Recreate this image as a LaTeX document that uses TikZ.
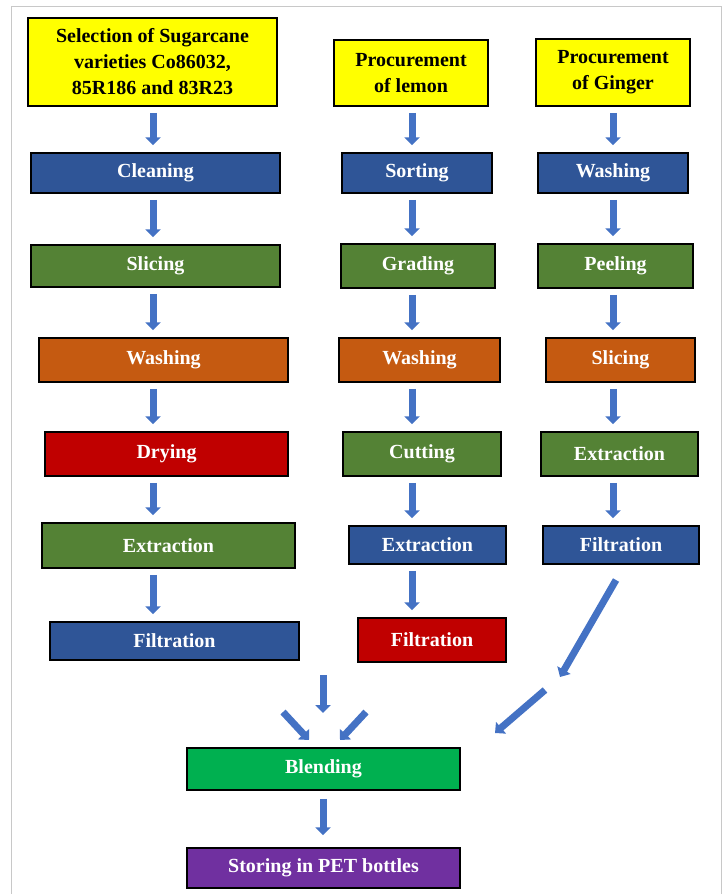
\documentclass[tikz,border=0pt]{standalone}
\usepackage{fontspec}
\setmainfont{Liberation Serif}
\usetikzlibrary{arrows.meta,calc}
\definecolor{cyel}{HTML}{FFFF00}
\definecolor{cblue}{HTML}{2F5597}
\definecolor{cgreen}{HTML}{548235}
\definecolor{corange}{HTML}{C55A11}
\definecolor{cred}{HTML}{C00000}
\definecolor{cbright}{HTML}{00B050}
\definecolor{cpurple}{HTML}{7030A0}
\definecolor{carrow}{HTML}{4472C4}
\definecolor{cframe}{HTML}{C8C8C8}
\tikzset{
  box/.style={draw=black, line width=1.5pt, inner sep=0pt, text=white,
    font=\fontsize{20}{26}\selectfont\bfseries, align=center},
  ybox/.style={box, fill=cyel, text=black},
  flowarrow/.style={draw=carrow, line width=7pt, -{Triangle[width=15pt,length=8pt]}},
}
\newcommand{\vflow}[3]{\draw[flowarrow] ($(#1.south -| #3)+(0,6)$) -- ($(#2.north -| #3)+(0,-7)$);}
\begin{document}
\begin{tikzpicture}[x=1pt,y=-1pt]
\useasboundingbox (0,0) rectangle (728,894);
\begin{scope}
\clip (0,0) rectangle (728,894);
\draw[cframe, line width=1.5pt] (11.5,900) -- (11.5,6.5) -- (721.5,6.5) -- (721.5,900);
\end{scope}
% column x positions for arrows
\coordinate (ax1) at (153,0);
\coordinate (ax2) at (412,0);
\coordinate (ax3) at (613,0);
\coordinate (ax4) at (323,0);
% column 1
\node[ybox, minimum width=249pt, minimum height=88pt] (sel) at (152.5,62) {Selection of Sugarcane\\varieties Co86032,\\85R186 and 83R23};
\node[box, fill=cblue, minimum width=249pt, minimum height=40pt] (clean1) at (155.5,173) {Cleaning};
\node[box, fill=cgreen, minimum width=249pt, minimum height=42pt] (slice1) at (155.5,266) {Slicing};
\node[box, fill=corange, minimum width=249pt, minimum height=44pt] (wash1) at (163.5,360) {Washing};
\node[box, fill=cred, minimum width=243pt, minimum height=44pt] (dry1) at (166.5,454) {Drying};
\node[box, fill=cgreen, minimum width=253pt, minimum height=45pt] (ext1) at (168.5,545.5) {Extraction};
\node[box, fill=cblue, minimum width=249pt, minimum height=38pt] (filt1) at (174.5,641) {Filtration};
% column 2
\node[ybox, minimum width=154pt, minimum height=66pt] (lemon) at (411,73) {Procurement\\of lemon};
\node[box, fill=cblue, minimum width=150pt, minimum height=40pt] (sort2) at (417,173) {Sorting};
\node[box, fill=cgreen, minimum width=154pt, minimum height=44pt] (grade2) at (418,266) {Grading};
\node[box, fill=corange, minimum width=161pt, minimum height=44pt] (wash2) at (419.5,360) {Washing};
\node[box, fill=cgreen, minimum width=158pt, minimum height=44pt] (cut2) at (422,454) {Cutting};
\node[box, fill=cblue, minimum width=157pt, minimum height=38pt] (ext2) at (427.5,545) {Extraction};
\node[box, fill=cred, minimum width=148pt, minimum height=44pt] (filt2) at (432,640) {Filtration};
% column 3
\node[ybox, minimum width=154pt, minimum height=67pt] (ginger) at (613,72.5) {Procurement\\of Ginger};
\node[box, fill=cblue, minimum width=150pt, minimum height=40pt] (wash3) at (613,173) {Washing};
\node[box, fill=cgreen, minimum width=155pt, minimum height=44pt] (peel3) at (615.5,266) {Peeling};
\node[box, fill=corange, minimum width=149pt, minimum height=44pt] (slice3) at (620.5,360) {Slicing};
\node[box, fill=cgreen, minimum width=157pt, minimum height=44pt] (ext3) at (619.5,454) {Extraction};
\node[box, fill=cblue, minimum width=156pt, minimum height=38pt] (filt3) at (621,545) {Filtration};
% bottom
\node[box, fill=cbright, minimum width=273pt, minimum height=42pt] (blend) at (323.5,769) {Blending};
\node[box, fill=cpurple, minimum width=273pt, minimum height=40pt] (store) at (323.5,868) {Storing in PET bottles};
% vertical arrows
\vflow{sel}{clean1}{ax1}
\vflow{clean1}{slice1}{ax1}
\vflow{slice1}{wash1}{ax1}
\vflow{wash1}{dry1}{ax1}
\vflow{dry1}{ext1}{ax1}
\vflow{ext1}{filt1}{ax1}
\vflow{lemon}{sort2}{ax2}
\vflow{sort2}{grade2}{ax2}
\vflow{grade2}{wash2}{ax2}
\vflow{wash2}{cut2}{ax2}
\vflow{cut2}{ext2}{ax2}
\vflow{ext2}{filt2}{ax2}
\vflow{ginger}{wash3}{ax3}
\vflow{wash3}{peel3}{ax3}
\vflow{peel3}{slice3}{ax3}
\vflow{slice3}{ext3}{ax3}
\vflow{ext3}{filt3}{ax3}
\draw[flowarrow] ($(blend.south -| ax4)+(0,8)$) -- ($(store.north -| ax4)+(0,-12)$);
% free arrows toward blending
\coordinate (m1s) at (323,675); \coordinate (m1e) at (323,713);
\coordinate (m2s) at (283,712); \coordinate (m2e) at (309,740);
\coordinate (m3s) at (366,712); \coordinate (m3e) at (340,740);
\coordinate (g1s) at (616,580); \coordinate (g1e) at (560,677);
\coordinate (g2s) at (545,690); \coordinate (g2e) at (495,733);
\draw[flowarrow] (m1s) -- (m1e);
\draw[flowarrow] (m2s) -- (m2e);
\draw[flowarrow] (m3s) -- (m3e);
\draw[flowarrow] (g1s) -- (g1e);
\draw[flowarrow] (g2s) -- (g2e);
\end{tikzpicture}
\end{document}
